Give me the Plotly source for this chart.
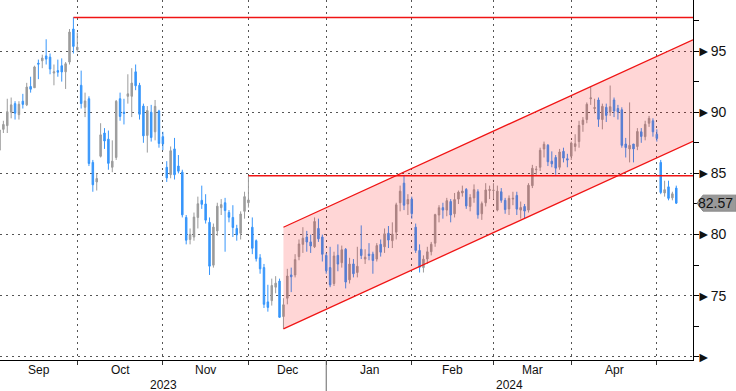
import plotly.graph_objects as go
import pandas as pd

# ---------------- data ----------------
sessions = pd.bdate_range("2023-09-01", "2024-05-07")
holidays = pd.to_datetime(["2023-12-25", "2024-01-01", "2024-03-29"])
dates = [d for d in sessions if d not in holidays]

opens = [
    # Sep
    86.9, 88.6, 88.9, 90.0, 90.7, 89.8, 90.9, 90.6, 92.1, 92.0, 94.0, 94.2, 94.6, 94.5, 93.2, 93.4, 93.8, 93.3, 94.1, 96.8, 95.1,
    # Oct
    92.2, 90.4, 91.1, 85.9, 84.3, 86.4, 88.3, 87.8, 85.5, 86.3, 91.1, 90.0, 91.3, 91.3, 93.3, 92.2, 90.5, 88.1, 90.0, 88.4, 90.1, 88.0,
    # Nov
    85.5, 84.9, 87.0, 85.6, 85.1, 81.4, 79.6, 79.8, 81.4, 82.8, 82.5, 81.0, 77.5, 80.3, 82.2, 82.6, 81.8, 81.4, 80.5, 80.1, 81.9, 82.6,
    # Dec
    80.6, 79.5, 78.1, 77.3, 74.5, 74.6, 75.7, 76.2, 73.3, 74.8, 76.7, 76.7, 78.2, 79.2, 79.8, 79.4, 79.0, 80.5, 79.8, 78.3,
    # Jan
    77.3, 76.0, 78.3, 77.7, 78.8, 76.3, 77.6, 76.9, 78.8, 78.0, 78.4, 78.4, 78.0, 79.2, 79.0, 80.1, 79.5, 80.2, 82.6, 84.2, 82.5, 82.9,
    # Feb
    80.6, 78.7, 77.3, 78.0, 78.6, 79.3, 81.6, 82.2, 82.0, 82.7, 81.7, 82.9, 83.4, 83.7, 82.3, 83.0, 83.5, 81.7, 82.6, 83.6, 83.6,
    # Mar
    82.0, 83.5, 82.8, 82.1, 82.9, 83.2, 82.0, 82.3, 82.0, 84.0, 85.3, 85.5, 87.0, 87.3, 86.0, 86.3, 85.5, 86.8, 86.2, 86.4,
    # Apr
    87.2, 87.6, 89.0, 89.4, 91.1, 90.3, 91.0, 89.4, 90.4, 90.0, 91.0, 90.3, 90.2, 87.4, 87.0, 87.4, 87.2, 88.4, 88.0, 89.1, 89.3, 88.2,
    # May
    85.9, 83.4, 83.9, 83.0, 83.8,
]
highs = [
    88.8, 89.3, 91.1, 91.2, 90.9, 90.9, 91.5, 92.4, 92.9, 93.8, 94.3, 94.7, 95.96, 94.8, 93.9, 94.3, 94.4, 94.1, 96.8, 97.75, 96.5,
    93.4, 91.6, 91.3, 86.1, 85.0, 89.1, 88.7, 88.5, 87.7, 91.0, 91.6, 91.1, 93.1, 93.6, 93.9, 92.4, 90.7, 90.5, 90.6, 91.0, 90.2, 88.4,
    86.0, 87.2, 87.9, 86.5, 85.3, 81.6, 80.5, 81.8, 83.1, 84.0, 83.3, 81.4, 80.9, 82.6, 82.9, 83.0, 82.0, 82.4, 80.8, 81.9, 83.5, 84.8,
    81.4, 79.6, 78.4, 77.6, 75.9, 76.4, 76.6, 76.4, 74.8, 77.2, 77.3, 78.4, 79.6, 80.6, 80.3, 80.0, 81.4, 81.3, 80.0, 78.5,
    79.0, 78.6, 79.2, 79.1, 78.9, 78.1, 78.0, 79.0, 80.75, 78.8, 79.3, 78.6, 79.3, 79.6, 80.5, 80.7, 81.0, 82.6, 84.0, 84.8, 83.3, 83.1,
    80.9, 79.2, 78.3, 79.0, 79.4, 81.7, 82.4, 82.6, 83.0, 82.9, 83.4, 83.6, 84.0, 83.8, 83.3, 84.1, 83.7, 82.7, 84.2, 84.0, 84.2,
    84.0, 83.8, 83.0, 83.2, 83.5, 83.5, 82.7, 82.5, 84.2, 85.7, 85.6, 87.1, 87.6, 87.4, 86.8, 86.5, 87.0, 87.1, 86.6, 87.6,
    88.2, 89.3, 89.6, 90.8, 92.1, 91.1, 91.2, 90.7, 90.7, 92.18, 91.2, 90.6, 90.4, 87.9, 90.8, 87.3, 88.7, 88.7, 89.3, 89.7, 89.5, 88.6,
    86.1, 84.4, 84.4, 83.5, 84.0,
]
lows = [
    86.6, 88.3, 88.3, 89.5, 89.4, 89.4, 90.3, 90.5, 91.6, 92.0, 92.7, 93.6, 93.9, 93.1, 92.2, 92.9, 92.5, 91.9, 93.9, 94.8, 94.9,
    90.3, 89.6, 85.6, 83.5, 83.6, 86.3, 87.0, 85.3, 85.1, 86.1, 89.3, 89.0, 90.7, 89.6, 91.8, 89.4, 87.5, 86.7, 87.6, 87.7, 87.1, 86.9,
    84.3, 84.6, 84.5, 85.0, 81.4, 79.2, 79.2, 79.5, 80.5, 82.1, 80.9, 76.7, 77.3, 79.9, 81.6, 78.6, 81.0, 79.8, 79.5, 79.6, 81.3, 82.2,
    78.4, 77.8, 76.8, 74.0, 73.7, 74.2, 75.2, 73.2, 72.3, 74.3, 75.3, 76.5, 77.9, 78.5, 78.6, 78.5, 78.9, 79.4, 77.8, 76.8,
    75.7, 75.8, 77.0, 77.3, 75.6, 76.0, 76.5, 76.5, 78.0, 77.6, 77.9, 76.8, 77.8, 78.2, 78.5, 78.9, 78.9, 79.6, 81.9, 82.0, 81.6, 81.3,
    78.5, 76.9, 76.9, 77.6, 78.3, 79.0, 81.0, 81.3, 81.5, 81.0, 81.4, 82.5, 83.1, 82.1, 81.9, 82.6, 81.3, 81.2, 82.3, 82.9, 82.9,
    81.9, 82.6, 81.7, 81.6, 82.4, 81.6, 81.3, 81.3, 81.8, 83.8, 84.9, 85.2, 86.3, 85.6, 85.5, 84.9, 85.3, 85.9, 85.5, 86.1,
    86.8, 87.1, 88.4, 89.1, 90.6, 89.9, 88.8, 88.6, 89.2, 89.7, 89.6, 89.4, 87.1, 86.3, 85.9, 85.9, 86.9, 87.5, 87.7, 88.8, 88.0, 87.6,
    83.3, 83.1, 82.8, 82.8, 82.5,
]
closes = [
    88.55, 89.00, 90.04, 90.60, 89.92, 90.65, 90.64, 92.06, 91.88, 93.70, 93.93, 94.43, 94.34, 93.53, 93.30, 93.27, 93.29, 93.96, 96.55, 95.38, 95.31,
    90.71, 90.92, 85.81, 84.07, 84.58, 88.15, 87.65, 85.82, 86.00, 90.89, 89.65, 89.90, 91.50, 92.38, 92.16, 89.83, 88.07, 90.13, 87.93, 90.48, 87.45, 87.41,
    84.63, 86.85, 84.89, 85.18, 81.61, 79.54, 80.01, 81.43, 82.52, 82.47, 81.18, 77.42, 80.61, 82.32, 82.45, 81.96, 81.42, 80.58, 79.98, 81.68, 83.10, 82.83,
    78.88, 78.03, 77.20, 74.30, 74.05, 75.84, 76.03, 73.24, 74.26, 76.61, 76.55, 77.95, 79.23, 79.70, 79.39, 79.07, 81.07, 79.65, 78.39, 77.04,
    75.89, 78.25, 77.59, 78.76, 76.12, 77.59, 76.80, 77.41, 78.29, 78.15, 78.29, 77.88, 79.10, 78.56, 80.06, 79.55, 80.04, 82.43, 83.55, 82.40, 82.87, 81.71,
    78.70, 77.33, 77.99, 78.59, 79.21, 81.63, 82.19, 82.00, 82.77, 81.60, 82.86, 83.47, 83.56, 82.34, 83.03, 83.67, 81.62, 82.53, 83.65, 83.68, 83.62,
    83.55, 82.80, 82.04, 82.96, 82.96, 82.08, 82.21, 81.92, 84.03, 85.42, 85.34, 86.89, 87.38, 85.95, 85.78, 85.43, 86.75, 86.25, 86.09, 87.48,
    87.42, 88.92, 89.35, 90.65, 91.17, 90.38, 89.42, 90.48, 89.74, 90.45, 90.10, 90.02, 87.29, 87.11, 87.29, 87.00, 88.42, 88.02, 89.01, 89.50, 88.40, 87.86,
    83.44, 83.67, 82.96, 83.33, 82.57,
]

y_ticks = [70, 75, 80, 85, 90, 95]
y_tick_labels = ["", "75", "80", "85", "90", "95"]
resistance_dates = ["2023-09-28", "2023-11-30"]   # horizontal lines from these highs
channel_start_date = "2023-12-13"                 # rising channel anchored on this low
channel_width = 8.3                               # price distance between channel lines
channel_slope = 0.1455                            # price per session

# ---------------- layout constants ----------------
UP = "#9c9c9c"
DOWN = "#3796fb"
RED = "#f01414"
GRID = "#555555"
FONT = "Liberation Sans"
X0, X1 = 0.13, 178.3
Y0, Y1 = 69.75, 99.17
PLOT_W, PLOT_H = 693.0, 360.0

n = len(dates)
assert n == len(opens) == len(highs) == len(lows) == len(closes), (n, len(opens), len(highs), len(lows), len(closes))
idx = list(range(n))
date_str = [d.strftime("%Y-%m-%d") for d in dates]

fig = go.Figure(go.Candlestick(
    x=idx, open=opens, high=highs, low=lows, close=closes,
    increasing=dict(line=dict(color=UP, width=1), fillcolor=UP),
    decreasing=dict(line=dict(color=DOWN, width=1), fillcolor=DOWN),
    whiskerwidth=0, text=date_str, hoverinfo="text+y",
))

# month boundaries: grid at last session of each month
month_end = [i for i in range(n - 1) if dates[i].month != dates[i + 1].month]
bounds = [X0] + month_end
annotations = []
for k in range(len(month_end)):
    mid = (bounds[k] + bounds[k + 1]) / 2
    annotations.append(dict(x=mid, y=0, xref="x", yref="paper", yshift=-10, yanchor="middle",
                            showarrow=False, text=dates[month_end[k]].strftime("%b"),
                            font=dict(family=FONT, size=12, color="#111")))
year_end = [i for i in range(n - 1) if dates[i].year != dates[i + 1].year][0]
for xc, yr in [((X0 + year_end) / 2, dates[0].year), ((year_end + X1) / 2, dates[-1].year)]:
    annotations.append(dict(x=xc, y=0, xref="x", yref="paper", yshift=-25, yanchor="middle",
                            showarrow=False, text=str(yr),
                            font=dict(family=FONT, size=12, color="#111")))

shapes = []
# year separator
shapes.append(dict(type="line", xref="x", yref="paper", x0=year_end, x1=year_end, y0=0, y1=-31 / PLOT_H,
                   line=dict(color="#666", width=1)))

# resistance lines
for ds in resistance_dates:
    i = date_str.index(ds)
    lvl = highs[i]
    shapes.append(dict(type="line", xref="x", yref="y", x0=i, x1=X1, y0=lvl, y1=lvl,
                       line=dict(color=RED, width=1.5), layer="above"))

# rising channel
ci = date_str.index(channel_start_date)
lo0 = lows[ci]
hi0 = lo0 + channel_width
lo1 = lo0 + channel_slope * (X1 - ci)
hi1 = hi0 + channel_slope * (X1 - ci)
shapes.append(dict(type="path", xref="x", yref="y",
                   path=f"M {ci},{lo0} L {X1},{lo1} L {X1},{hi1} L {ci},{hi0} Z",
                   fillcolor="rgba(255,0,0,0.16)", line=dict(width=0), layer="above"))
for a, b in [(lo0, lo1), (hi0, hi1)]:
    shapes.append(dict(type="line", xref="x", yref="y", x0=ci, x1=X1, y0=a, y1=b,
                       line=dict(color=RED, width=1.3), layer="above"))

# last price tag
last = closes[-1]
py = (last - Y0) / (Y1 - Y0)
hh = 8 / PLOT_H
shapes.append(dict(type="path", xref="paper", yref="paper",
                   path=(f"M {697/PLOT_W},{py} L {703/PLOT_W},{py+hh} L {736/PLOT_W},{py+hh} "
                         f"L {736/PLOT_W},{py-hh} L {703/PLOT_W},{py-hh} Z"),
                   fillcolor="#999999", line=dict(color="#888888", width=1)))
annotations.append(dict(x=735 / PLOT_W, y=py, xref="paper", yref="paper", showarrow=False,
                        xanchor="right", yanchor="middle",
                        text=f"{last:.2f}", font=dict(family=FONT, size=14, color="#111")))

fig.update_layout(
    width=736, height=391,
    margin=dict(l=0, r=43, t=0, b=31),
    paper_bgcolor="white", plot_bgcolor="white",
    showlegend=False, boxgap=0.45,
    shapes=shapes, annotations=annotations,
    xaxis=dict(range=[X0, X1], rangeslider=dict(visible=False), tickmode="array",
               tickvals=month_end, ticktext=[""] * len(month_end), ticks="outside", ticklen=4,
               tickcolor="#333", showgrid=True, gridcolor=GRID, griddash="2px,4px", gridwidth=1,
               showline=True, linecolor="black", linewidth=1, zeroline=False, fixedrange=True),
    yaxis=dict(range=[Y0, Y1], side="right", tickmode="array", tickvals=y_ticks,
               ticktext=["►" + t for t in y_tick_labels], ticks="",
               tickfont=dict(family=FONT, size=14, color="#111"),
               showgrid=True, gridcolor=GRID, griddash="2px,4px", gridwidth=1,
               showline=True, linecolor="black", linewidth=1, zeroline=False, fixedrange=True,
               minor=dict(dtick=2.5, tick0=70, ticks="outside", ticklen=5, tickcolor="black", showgrid=False)),
)

fig.write_html("out.html", config={"displayModeBar": False},
               post_script="document.body.style.margin='0';document.body.style.overflow='hidden';")
